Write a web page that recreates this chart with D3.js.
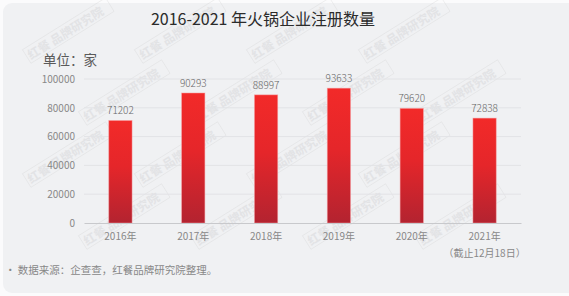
<!DOCTYPE html>
<html>
<head>
<meta charset="utf-8">
<script src="https://cdn.jsdelivr.net/npm/d3@7"></script>
<style>
  html, body { margin: 0; padding: 0; background: #fbfbfc; }
  svg { display: block; font-family: "Noto Sans CJK SC", "Noto Sans", sans-serif; }
</style>
</head>
<body>
<div id="chart"></div>
<script>
// data
const years = ['2016年', '2017年', '2018年', '2019年', '2020年', '2021年'];
const counts = [71202, 90293, 88997, 93633, 79620, 72838];
const yTicks = [0, 20000, 40000, 60000, 80000, 100000];

const W = 569, H = 296;
const margin = { top: 79, right: 48, bottom: 73, left: 84 };
const width = W - margin.left - margin.right;
const height = H - margin.top - margin.bottom;

const svg = d3.select('#chart').append('svg')
  .attr('width', W)
  .attr('height', H);

const defs = svg.append('defs');
const grad = defs.append('linearGradient')
  .attr('id', 'barGrad')
  .attr('x1', 0).attr('y1', 0).attr('x2', 0).attr('y2', 1);
grad.append('stop').attr('offset', '0%').attr('stop-color', '#f22a29');
grad.append('stop').attr('offset', '45%').attr('stop-color', '#e5262a');
grad.append('stop').attr('offset', '100%').attr('stop-color', '#b32330');

// card background
svg.append('rect')
  .attr('x', 3).attr('y', 3)
  .attr('width', W + 10).attr('height', H - 6)
  .attr('rx', 9)
  .attr('fill', '#f0f1f3');

// watermark (only the ones that fit inside the picture)
const wm = svg.append('g').attr('class', 'watermark');
const wmPos = [];
for (let r = 0; r < 5; r++) {
  for (let c = -1; c < 6; c++) {
    const px = c * 112 + (r % 2 ? 56 : 0) + 30;
    const py = r * 62 + 58;
    if (px >= 4 && px + 92 <= W - 2 && py - 56 >= 2 && py + 10 <= H - 4) wmPos.push([px, py]);
  }
}
wmPos.forEach(p => {
  const g = wm.append('g')
    .attr('transform', 'translate(' + p[0] + ',' + p[1] + ') rotate(-32)');
  g.append('rect')
    .attr('x', -2).attr('y', -11)
    .attr('width', 98).attr('height', 16)
    .attr('fill', 'none')
    .attr('stroke', '#c9c9cc')
    .attr('stroke-width', 0.8)
    .attr('opacity', 0.3);
  g.append('text')
    .attr('x', 0).attr('y', 2)
    .attr('font-size', 12)
    .attr('font-weight', 'bold')
    .attr('fill', '#cfcfd2')
    .attr('opacity', 0.4)
    .text('红餐 品牌研究院');
});

svg.append('text')
  .attr('x', 263).attr('y', 25)
  .attr('text-anchor', 'middle')
  .attr('font-size', 16)
  .attr('font-weight', 400)
  .attr('fill', '#2b2b2b')
  .text('2016-2021 年火锅企业注册数量');

svg.append('text')
  .attr('x', 43).attr('y', 65)
  .attr('font-size', 13.5)
  .attr('fill', '#5a5a5a')
  .text('单位：家');

const chart = svg.append('g')
  .attr('transform', 'translate(' + margin.left + ',' + margin.top + ')');

const x = d3.scaleBand()
  .domain(years)
  .range([0, width])
  .paddingInner(0.68)
  .paddingOuter(0.34);

const y = d3.scaleLinear()
  .domain([0, 100000])
  .range([height, 0]);

// grid
chart.append('g')
  .selectAll('line')
  .data(yTicks.slice(1))
  .join('line')
  .attr('x1', 0).attr('x2', width)
  .attr('y1', d => y(d)).attr('y2', d => y(d))
  .attr('stroke', '#e2e3e6')
  .attr('stroke-width', 1);

const yAxis = chart.append('g')
  .call(d3.axisLeft(y).tickValues(yTicks).tickSize(0).tickPadding(9).tickFormat(d3.format('d')));
yAxis.select('.domain').remove();
yAxis.selectAll('text')
  .attr('font-size', 10)
  .attr('fill', '#888')
  .attr('font-family', '"Noto Sans CJK SC", sans-serif');

chart.selectAll('.bar')
  .data(counts)
  .join('rect')
  .attr('class', 'bar')
  .attr('x', (d, i) => x(years[i]))
  .attr('y', d => y(d))
  .attr('width', x.bandwidth())
  .attr('height', d => height - y(d))
  .attr('fill', 'url(#barGrad)')
  .attr('stroke', '#f6a3a6')
  .attr('stroke-opacity', 0.6)
  .attr('stroke-width', 0.8);

chart.selectAll('.val')
  .data(counts)
  .join('text')
  .attr('class', 'val')
  .attr('x', (d, i) => x(years[i]) + x.bandwidth() / 2)
  .attr('y', d => y(d) - 6)
  .attr('text-anchor', 'middle')
  .attr('font-size', 10)
  .attr('font-weight', 300)
  .attr('fill', '#666')
  .text(d => d);

const xAxis = chart.append('g')
  .attr('transform', 'translate(0,' + height + ')')
  .call(d3.axisBottom(x).tickSize(0).tickPadding(10));
xAxis.select('.domain').attr('stroke', '#c8c9cc');
xAxis.selectAll('text')
  .attr('font-size', 10)
  .attr('fill', '#888')
  .attr('font-family', '"Noto Sans CJK SC", sans-serif');

chart.append('text')
  .attr('x', x('2021年') + x.bandwidth() / 2)
  .attr('y', height + 34)
  .attr('text-anchor', 'middle')
  .attr('font-size', 10)
  .attr('fill', '#888')
  .text('（截止12月18日）');

svg.append('text')
  .attr('x', 5).attr('y', 274)
  .attr('font-size', 10.5)
  .attr('fill', '#888')
  .text('• 数据来源：企查查，红餐品牌研究院整理。');
</script>
</body>
</html>
